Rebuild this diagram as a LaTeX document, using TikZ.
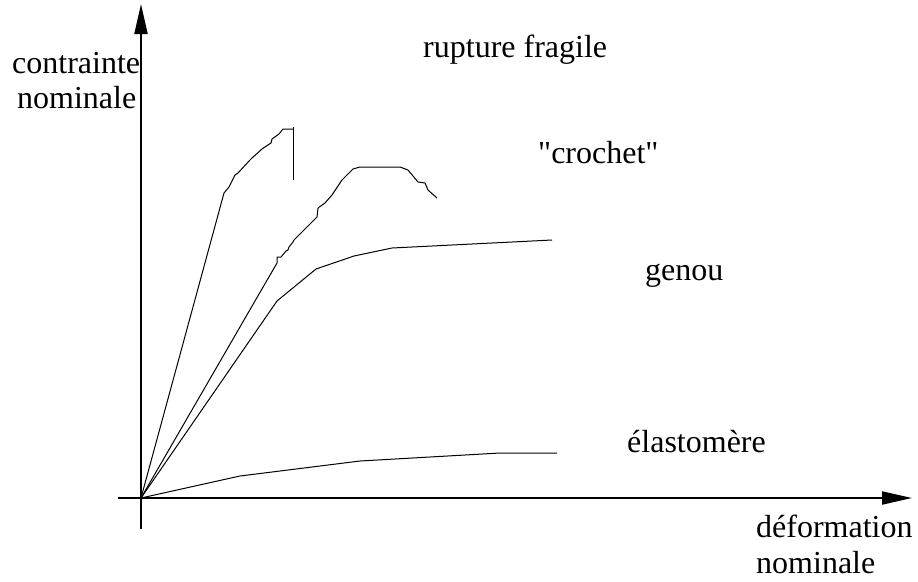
\documentclass[tikz,border=0pt]{standalone}
\usepackage{fontspec}
\setmainfont[Ligatures=TeXOff]{Liberation Serif}
\usetikzlibrary{arrows.meta}
\begin{document}
\begin{tikzpicture}[x=1pt,y=-1pt,
  axis/.style={line width=2pt,-{Triangle[length=30pt,width=13pt]}},
  curve/.style={line width=1pt,line join=round},
  lbl/.style={anchor=base west,inner sep=0pt,font=\fontsize{32}{36}\selectfont}]
\useasboundingbox (0,0) rectangle (918,581);
\coordinate (O) at (141,498);
% axes
\coordinate (xs) at (118,498);
\coordinate (xe) at (912,498);
\coordinate (ys) at (141,529);
\coordinate (ye) at (141,4);
\draw[axis] (xs) -- (xe);
\draw[axis] (ys) -- (ye);
% rupture fragile
\draw[curve] (O) -- (224,193) -- (229,187) -- (232,181) -- (235,175) -- (238,173)
  -- (250,160) -- (252,158) -- (262,149) -- (271,143) -- (272,139) -- (279,134)
  -- (283,129) -- (293,129);
\draw[curve] (293,127) -- (293,180);
% crochet
\draw[curve] (O) -- (277,263) -- (277,257) -- (281,257) -- (286,251) -- (288,250)
  -- (289,247) -- (293,242) -- (294,240) -- (307,227) -- (317,217) -- (318,208)
  -- (325,203) -- (332,195) -- (342,180) -- (353,169) -- (360,167) -- (400,167)
  -- (408,170) -- (418,182) -- (425,183) -- (428,190) -- (437,198);
% genou
\draw[curve] (O) -- (277,301) -- (316,269) -- (354,256) -- (392,248) -- (552,240);
% elastomere
\draw[curve] (O) -- (240,476) -- (360,461) -- (500,453) -- (557,453);
% labels
\node[lbl] (c1) at (12,73) {contrainte};
\node[lbl] (c2) at (17,108) {nominale};
\node[lbl] (rf) at (423,57) {rupture fragile};
\node[lbl] (cr) at (538,163) {"crochet"};
\node[lbl] (ge) at (645,280) {genou};
\node[lbl] (el) at (627,452) {élastomère};
\node[lbl] (d1) at (756,537) {déformation};
\node[lbl] (d2) at (756,573) {nominale};
\end{tikzpicture}
\end{document}
